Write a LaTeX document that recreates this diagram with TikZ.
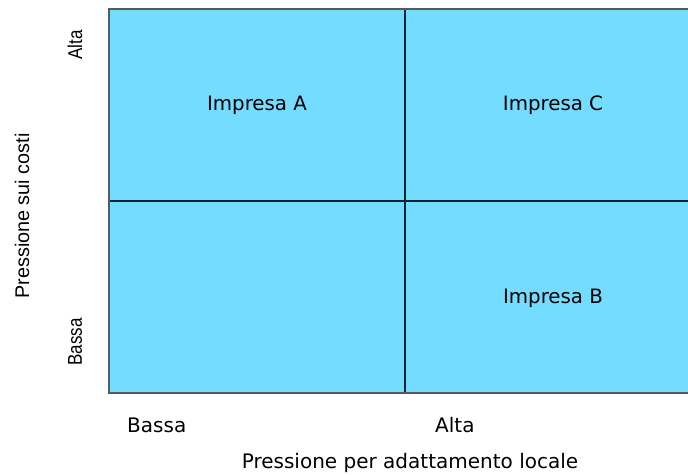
\documentclass[tikz,border=0pt]{standalone}
\usepackage{fontspec}
\setmainfont{DejaVu Sans}
\newfontfamily\sidefont{Liberation Sans}
\usetikzlibrary{positioning}
\definecolor{matcyan}{RGB}{115,220,255}
\definecolor{matline}{RGB}{15,35,50}
\newcommand{\narrowtxt}[1]{\scalebox{0.85}[1]{#1}}

\begin{document}
\begin{tikzpicture}[
     x=1pt, y=-1pt,
     % define styles
     cell/.style={
         font=\fontsize{19.8}{22}\selectfont,
         inner sep=0pt
     },
     axislab/.style={
         font=\fontsize{20}{22}\selectfont,
         inner sep=0pt
     },
     sidelab/.style={
         font=\sidefont\fontsize{20}{22}\selectfont,
         rotate=90,
         inner sep=0pt
     }
]
\useasboundingbox (0,0) rectangle (688,474);
% corners of the matrix
\coordinate (nw) at (109,9);
\coordinate (se) at (692,393);
\coordinate (top) at (405,9);
\coordinate (bot) at (405,393);
\coordinate (lft) at (109,201);
\coordinate (rgt) at (692,201);
\fill[matcyan] (nw) rectangle (se);
\draw[matline, line width=1.2pt] (top) -- (bot);
\draw[matline, line width=1.2pt] (lft) -- (rgt);
\draw[black!65, line width=1.3pt] (se) -| (nw) -- (nw -| se);

% cells
\node[cell] (impA) at (257,105) {Impresa A};
\node[cell] (impC) at (553,105) {Impresa C};
\node[cell] (impB) at (553,298) {Impresa B};

% horizontal axis
\node[axislab, anchor=west] (xlow) at (127,425) {Bassa};
\node[axislab, anchor=west] (xhigh) at (435,425) {Alta};
\node[axislab] (xtitle) at (410,463) {Pressione per adattamento locale};

% vertical axis
\node[sidelab] (yhigh) at (75,45) {\narrowtxt{Alta}};
\node[sidelab] (ylow) at (75,342) {\narrowtxt{Bassa}};
\node[sidelab, font=\sidefont\fontsize{19.8}{22}\selectfont] (ytitle) at (22,216) {Pressione sui costi};
\end{tikzpicture}
\end{document}
